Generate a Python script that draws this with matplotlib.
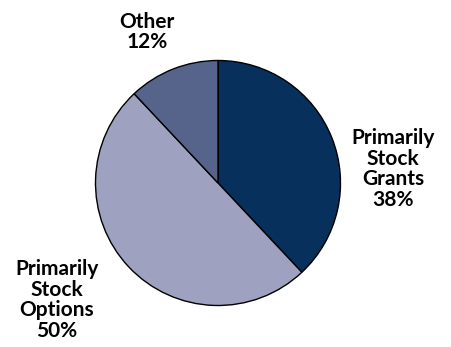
import matplotlib
matplotlib.use("Agg")
import matplotlib.pyplot as plt

# share of companies by equity compensation type
categories = ["Primarily\nStock\nGrants", "Primarily\nStock\nOptions", "Other"]
shares = [38, 50, 12]
colors = ["#07305c", "#9ea1bf", "#56648c"]

W, H = 451, 347
cx, cy, r = 218, 183, 122.5   # pie centre and radius in pixels

fig = plt.figure(figsize=(W / 100, H / 100), dpi=100)
ax = fig.add_axes([0, 0, 1, 1])
ax.pie(shares, colors=colors, startangle=90, counterclock=False,
       wedgeprops={"edgecolor": "black", "linewidth": 1.0})
ax.set_xlim(-cx / r, (W - cx) / r)
ax.set_ylim(-(H - cy) / r, cy / r)
ax.set_aspect("equal")
ax.axis("off")

# label anchor positions in pixels (x, y from top)
label_pos = [(393, 169), (57, 300), (147, 32)]
for name, val, (px, py) in zip(categories, shares, label_pos):
    ax.text((px - cx) / r, (cy - py) / r, f"{name}\n{val}%",
            ha="center", va="center", fontsize=15, fontweight="bold",
            family="Lato", linespacing=1.05)

fig.savefig("out.png", dpi=100)
